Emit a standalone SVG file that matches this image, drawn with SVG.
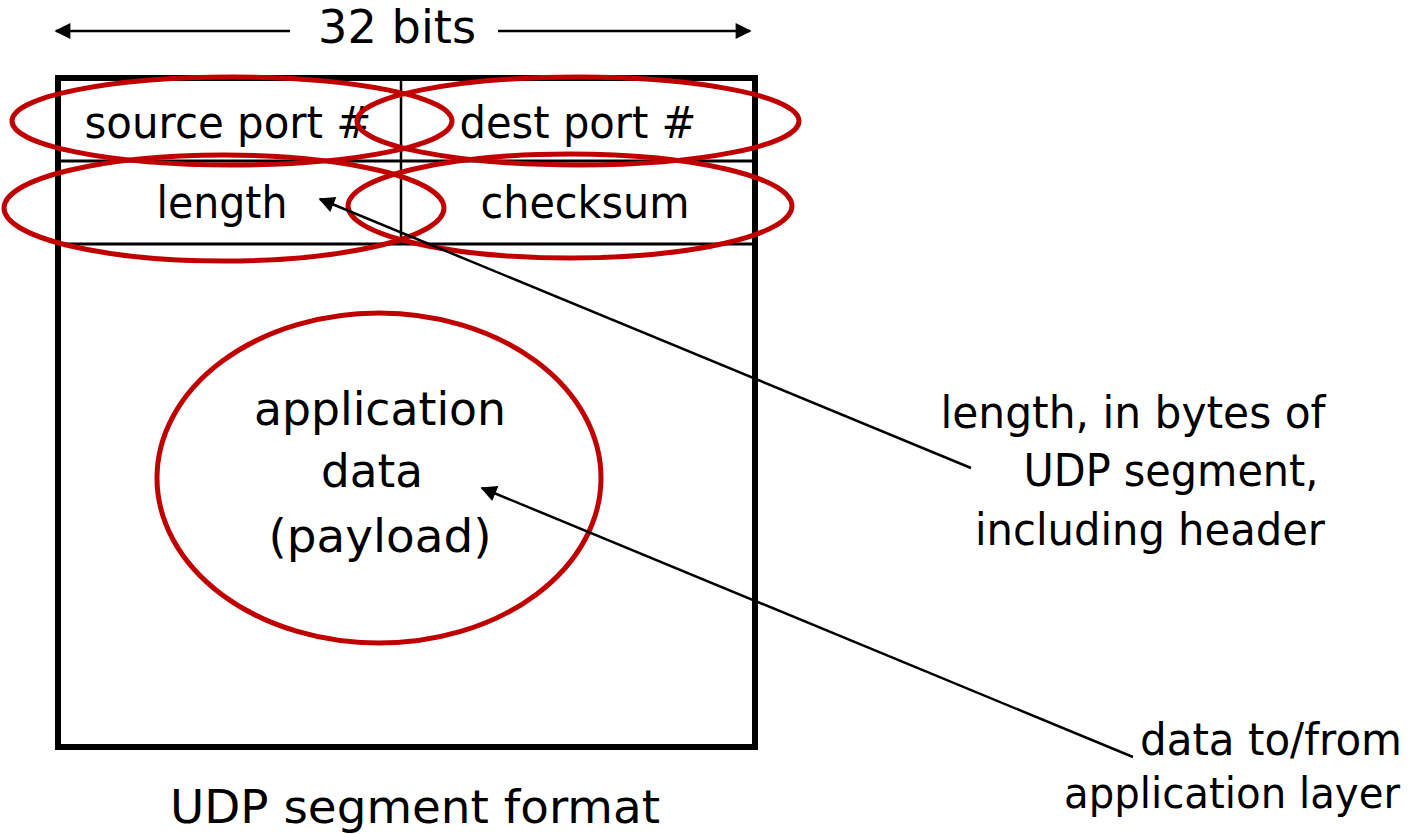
<svg xmlns="http://www.w3.org/2000/svg" width="1414" height="834" viewBox="0 0 1414 834">
<style>
text{font-family:"DejaVu Sans","Noto Sans",sans-serif;fill:#000}
.red{fill:none;stroke:#c00000;stroke-width:5}
.blk{stroke:#000;fill:none}
</style>
<defs>
<marker id="ah2" viewBox="0 0 10 10" refX="9" refY="5" markerWidth="20" markerHeight="16" markerUnits="userSpaceOnUse" orient="auto">
<path d="M0,0 L10,5 L0,10 z" fill="#000"/>
</marker>
</defs>
<rect width="1414" height="834" fill="#fff"/>
<g id="width-label">
<text x="397" y="43" font-size="46" text-anchor="middle" textLength="158" lengthAdjust="spacingAndGlyphs">32 bits</text>
</g>
<g id="segment">
<rect x="58" y="78" width="697" height="669" class="blk" stroke-width="6"/>
<line x1="401" y1="80" x2="401" y2="244" class="blk" stroke-width="2.5"/>
<line x1="60" y1="161" x2="752" y2="161" class="blk" stroke-width="3"/>
<line x1="60" y1="244" x2="752" y2="244" class="blk" stroke-width="3"/>
</g>
<g id="source-port">
<text x="228" y="138" font-size="44" text-anchor="middle" textLength="287" lengthAdjust="spacingAndGlyphs">source port #</text>
<ellipse cx="232" cy="121" rx="220" ry="44" class="red"/>
</g>
<g id="dest-port">
<text x="578" y="138" font-size="44" text-anchor="middle" textLength="237" lengthAdjust="spacingAndGlyphs">dest port #</text>
<ellipse cx="578" cy="121" rx="221" ry="44" class="red"/>
</g>
<g id="length">
<text x="222" y="218" font-size="44" text-anchor="middle" textLength="131" lengthAdjust="spacingAndGlyphs">length</text>
<ellipse cx="224" cy="208" rx="220" ry="53" class="red"/>
</g>
<g id="checksum">
<text x="585" y="218" font-size="44" text-anchor="middle" textLength="209" lengthAdjust="spacingAndGlyphs">checksum</text>
<ellipse cx="570" cy="206" rx="222" ry="52" class="red"/>
</g>
<g id="payload">
<ellipse cx="379" cy="478" rx="222" ry="165" class="red"/>
<text x="380" y="425" font-size="46" text-anchor="middle" textLength="252" lengthAdjust="spacingAndGlyphs">application</text>
<text x="372" y="487" font-size="46" text-anchor="middle" textLength="102" lengthAdjust="spacingAndGlyphs">data</text>
<text x="380" y="552" font-size="46" text-anchor="middle" textLength="223" lengthAdjust="spacingAndGlyphs">(payload)</text>
</g>
<g id="length-note">
<text x="1133" y="428" font-size="44" text-anchor="middle" textLength="385" lengthAdjust="spacingAndGlyphs">length, in bytes of</text>
<text x="1171" y="486" font-size="44" text-anchor="middle" textLength="295" lengthAdjust="spacingAndGlyphs">UDP segment,</text>
<text x="1150" y="545" font-size="44" text-anchor="middle" textLength="350" lengthAdjust="spacingAndGlyphs">including header</text>
</g>
<g id="data-note">
<text x="1271" y="755" font-size="44" text-anchor="middle" textLength="262" lengthAdjust="spacingAndGlyphs">data to/from</text>
<text x="1232" y="808" font-size="43" text-anchor="middle" textLength="336" lengthAdjust="spacingAndGlyphs">application layer</text>
</g>
<g id="caption">
<text x="415" y="823" font-size="47" text-anchor="middle" textLength="490" lengthAdjust="spacingAndGlyphs">UDP segment format</text>
</g>
<g id="connectors" stroke="#000" fill="none">
<line x1="290" y1="31" x2="56" y2="31" stroke-width="2.5" marker-end="url(#ah2)"/>
<line x1="498" y1="31" x2="750" y2="31" stroke-width="2.5" marker-end="url(#ah2)"/>
<line x1="971" y1="468" x2="320" y2="199" stroke-width="2.5" marker-end="url(#ah2)"/>
<line x1="1133" y1="757" x2="482" y2="488" stroke-width="2.5" marker-end="url(#ah2)"/>
</g>
</svg>
